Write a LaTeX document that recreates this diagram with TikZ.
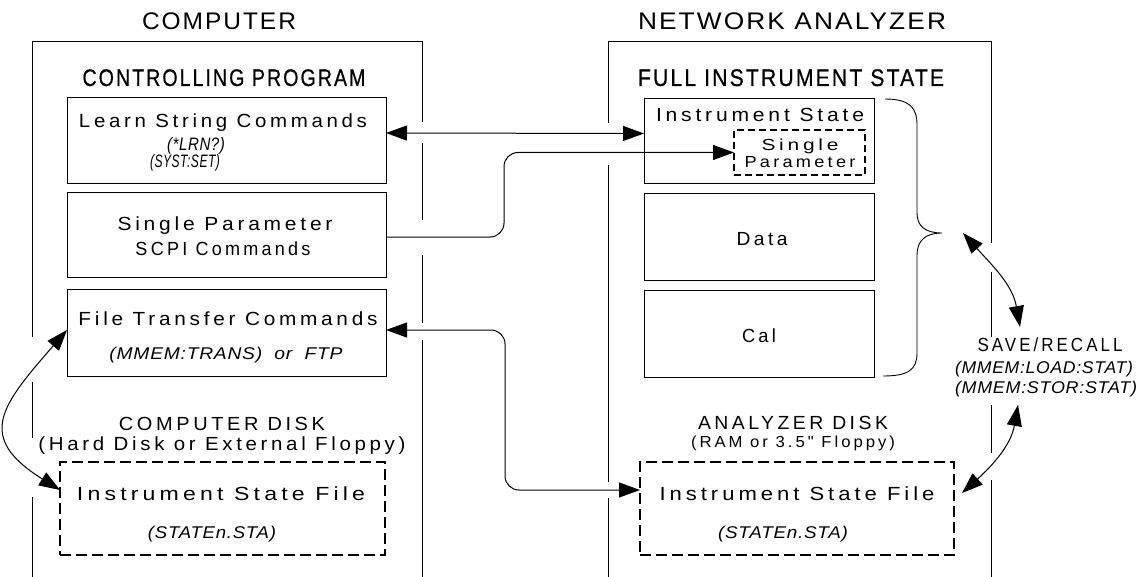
\documentclass[tikz,border=0pt]{standalone}
\usepackage{fontspec}
\usepackage{graphicx}
\setmainfont{Liberation Sans}
\newfontfamily\ttlf[LetterSpace=8]{Liberation Sans}
\newfontfamily\hdrf[LetterSpace=10,FakeBold=0.6]{Liberation Sans}
\newfontfamily\bodf[LetterSpace=18]{Liberation Sans}
\newfontfamily\itf[LetterSpace=4]{Liberation Sans}
\usetikzlibrary{arrows.meta,calc}
\newcommand\fitw[2]{\resizebox{#1pt}{\height}{#2}}
\tikzset{
  tx/.style={inner sep=0pt, anchor=base},
  ttl/.style={tx, font=\ttlf\fontsize{24}{28}\selectfont},
  hdr/.style={tx, font=\hdrf\fontsize{24}{28}\selectfont},
  bod/.style={tx, font=\bodf\fontsize{19}{22}\selectfont},
  sml/.style={tx, font=\bodf\fontsize{16}{19}\selectfont},
  itl/.style={tx, font=\itf\itshape\fontsize{17}{20}\selectfont},
  itb/.style={tx, font=\itf\itshape\fontsize{18}{21}\selectfont},
  bx/.style={draw, line width=0.9pt, inner sep=0pt, outer sep=0pt},
  dbx/.style={draw, line width=2.4pt, dash pattern=on 11pt off 5pt, inner sep=0pt, outer sep=0pt},
  sdbx/.style={draw, line width=2pt, dash pattern=on 7pt off 4pt, inner sep=0pt, outer sep=0pt},
  frm/.style={line width=0.9pt},
  tip/.tip={Triangle[length=21pt,width=15pt]},
  dbl/.style={line width=1pt, tip-tip},
  sgl/.style={line width=1pt, -tip},
}
\begin{document}
\begin{tikzpicture}[x=1pt,y=-1pt]
\useasboundingbox (0,0) rectangle (1139,577);
\fill[white] (0,0) rectangle (1139,577);

% frames
\draw[frm] (32,337) -- (32,41) -- (422,41) -- (422,122);
\draw[frm] (32,382) -- (32,438);
\draw[frm] (32,497) -- (32,577);
\draw[frm] (422,143) -- (422,220);
\draw[frm] (422,255) -- (422,323);
\draw[frm] (422,340) -- (422,577);
\draw[frm] (608,123) -- (608,41) -- (991,41) -- (991,243);
\draw[frm] (608,165) -- (608,482);
\draw[frm] (608,498) -- (608,577);
\draw[frm] (991,272) -- (991,337);
\draw[frm] (991,405) -- (991,453);
\draw[frm] (991,480) -- (991,577);

% titles
\node[ttl] (tComp) at (219,30) {\fitw{154}{COMPUTER}};
\node[ttl] (tNA) at (792,30) {\fitw{308}{NETWORK ANALYZER}};
\node[hdr] (hCP) at (224,86) {\fitw{283}{CONTROLLING PROGRAM}};
\node[hdr] (hFIS) at (791,86) {\fitw{306}{FULL INSTRUMENT STATE}};

% left boxes
\node[bx, minimum width=319pt, minimum height=86pt] (box1) at (226.5,140) {};
\node[bx, minimum width=319pt, minimum height=85pt] (box2) at (226.5,234.5) {};
\node[bx, minimum width=319pt, minimum height=87pt] (box3) at (226.5,332.5) {};
\node[dbx, minimum width=325pt, minimum height=93pt] (dfile1) at (222.5,508.5) {};

\node[bod] (l1) at (223,128) {\fitw{288}{Learn String Commands}};
\node[itb] (l2) at (196,151) {\fitw{58}{(*LRN?)}};
\node[itb] (l3) at (185,168) {\fitw{70}{(SYST:SET)}};
\node[bod] (s1) at (225,230) {\fitw{215}{Single Parameter}};
\node[bod] (s2) at (223,255) {\fitw{175}{SCPI Commands}};
\node[bod] (f1) at (228,325) {\fitw{299}{File Transfer Commands}};
\node[itl] (f2) at (226,359) {\fitw{233}{(MMEM:TRANS)\ \ or\ \ FTP}};
\node[bod] (cd1) at (222,430) {\fitw{206}{COMPUTER DISK}};
\node[bod] (cd2) at (222,450) {\fitw{367}{(Hard Disk or External Floppy)}};
\node[bod] (if1) at (221,500) {\fitw{288}{Instrument State File}};
\node[itl] (sf1) at (212,538) {\fitw{128}{(STATEn.STA)}};

% right boxes
\node[bx, minimum width=230pt, minimum height=85pt] (inst) at (759,140.5) {};
\node[sdbx, minimum width=131pt, minimum height=45pt] (sp) at (799.5,152.5) {};
\node[bx, minimum width=230pt, minimum height=87pt] (data) at (759,236.5) {};
\node[bx, minimum width=230pt, minimum height=87pt] (cal) at (759,333.5) {};
\node[dbx, minimum width=314pt, minimum height=93pt] (dfile2) at (797,508.5) {};

\node[bod] (is) at (760,122) {\fitw{208}{Instrument State}};
\node[sml] (sp1) at (800,151) {\fitw{77}{Single}};
\node[sml] (sp2) at (800,168) {\fitw{111}{Parameter}};
\node[bod] (dt) at (762,245) {\fitw{51}{Data}};
\node[bod] (cl) at (759,342) {\fitw{34}{Cal}};
\node[bod] (ad1) at (793,429) {\fitw{190}{ANALYZER DISK}};
\node[sml] (ad2) at (793,447) {\fitw{204}{(RAM or 3.5" Floppy)}};
\node[bod] (if2) at (797,500) {\fitw{275}{Instrument State File}};
\node[itl] (sf2) at (783,538) {\fitw{130}{(STATEn.STA)}};

\node[bod] (sr) at (1050,351) {\fitw{145}{SAVE/RECALL}};
\node[itl] (ld) at (1044,373) {\fitw{178}{(MMEM:LOAD:STAT)}};
\node[itl] (st) at (1046,393) {\fitw{182}{(MMEM:STOR:STAT)}};

% brace
\draw[line width=0.9pt] (885,99) .. controls (910,99) and (917,108) .. (917,125) -- (917,213)
  .. controls (917,226) and (925,233) .. (942,233)
  .. controls (925,233) and (917,241) .. (917,255) -- (917,353)
  .. controls (917,370) and (908,376) .. (883,376);
\coordinate (brtip) at (942,233);

% connectors
\coordinate (j1) at (504,195);
\coordinate (j2) at (505,410);
\draw[dbl] ([yshift=7pt]box1.east) -- ([yshift=7pt]inst.west);
\draw[sgl, rounded corners=14pt] ([yshift=-2.5pt]box2.east) -| (j1) |- (sp.west);
\draw[dbl, rounded corners=14pt] ([yshift=2.5pt]box3.east) -| (j2) |- ([yshift=18.5pt]dfile2.west);
\draw[dbl] ([yshift=2.5pt]box3.west) to[out=229,in=148,looseness=1.6] ([yshift=18.5pt]dfile1.west);
\draw[dbl] ([xshift=21pt]brtip) to[out=-48,in=100] ([xshift=-30pt,yshift=24pt]sr.base);
\draw[dbl] ([xshift=-28pt,yshift=-12pt]st.base) to[out=-100,in=42] ([xshift=8pt,yshift=15.5pt]dfile2.east);
\end{tikzpicture}
\end{document}
